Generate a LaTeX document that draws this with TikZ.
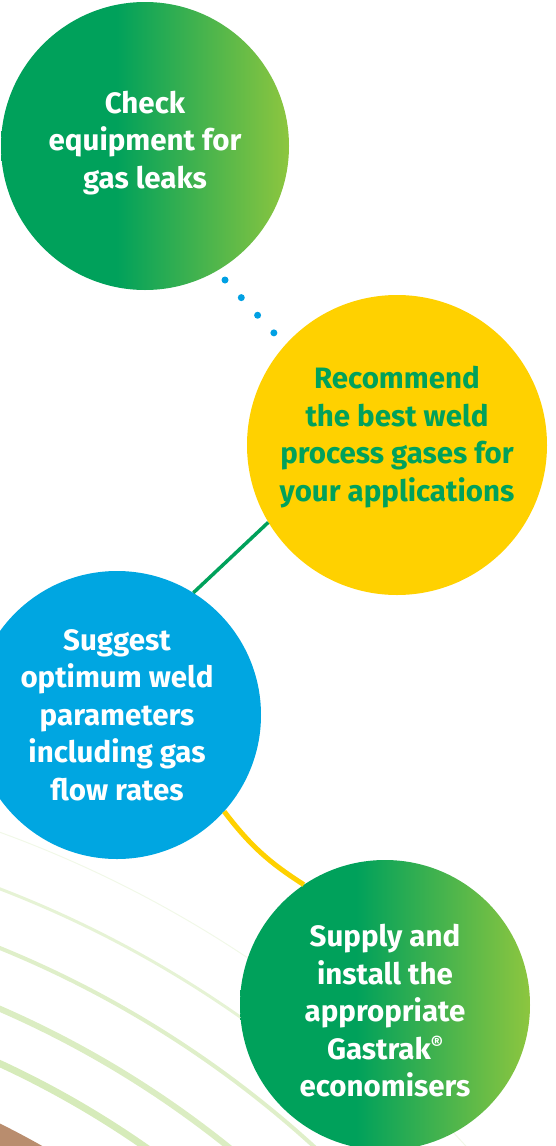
\documentclass[tikz,border=0pt]{standalone}
\usepackage{fontspec}
\setmainfont{Fira Sans}
\usetikzlibrary{positioning}

\definecolor{leafgreen}{HTML}{00A15B}
\definecolor{limegreen}{HTML}{8DC63F}
\definecolor{sunyellow}{HTML}{FFD100}
\definecolor{skyblue}{HTML}{00A6E1}
\definecolor{dotblue}{HTML}{00A0E3}
\definecolor{photobrown}{HTML}{B98D6E}

\pgfdeclarehorizontalshading{greenfade}{100bp}{color(0bp)=(leafgreen); color(45bp)=(leafgreen); color(75bp)=(limegreen); color(100bp)=(limegreen)}

\tikzset{
  bubble/.style={circle, inner sep=0pt, minimum size=288},
  bubbletext/.style={align=center, inner sep=0pt,
    font=\bfseries\fontsize{29.5}{37.5}\selectfont, text=white},
  greenbubble/.style={bubble, shading=greenfade},
  dotline/.style={dotblue, line width=7, line cap=round, dash pattern=on 0pt off 24pt},
}

\begin{document}
\begin{tikzpicture}[x=1pt, y=-1pt]
			\useasboundingbox (0,0) rectangle (556,1146);
			
			% rings in the corner
			\fill[photobrown] (-400,1930) circle (900);
			\foreach \r/\w/\c in {1168/1/12, 1115/3/22, 1060/4/28, 1004/6/32, 954/7/36}
				\draw[limegreen!\c, line width=\w] (-400,1930) circle (\r);
			
			\node[greenbubble, label={[bubbletext, yshift=3]center:{Check\\equipment for\\gas leaks}}] (check) at (145,146) {};
			\node[bubble, minimum size=300, fill=sunyellow, label={[bubbletext, text=leafgreen, yshift=8]center:{Recommend\\the best weld\\process gases for\\your applications}}] (recommend) at (397,445) {};
			\node[bubble, fill=skyblue, label={[bubbletext]center:{Suggest\\optimum weld\\parameters\\including gas\\flow rates}}] (suggest) at (117,715) {};
			\node[greenbubble, minimum size=290, label={[bubbletext, yshift=-6]center:{Supply and\\install the\\appropriate\\Gastrak\raisebox{9pt}{\fontsize{19}{19}\selectfont ®}\\economisers}}] (supply) at (385,1005) {};
			
			\coordinate (dotstart) at (225,280);
			\coordinate (dotend) at (274,333);
			\draw[dotline] (dotstart) -- (dotend);
			\draw[leafgreen, line width=3.5] (suggest.58) -- (recommend.211);
			\draw[sunyellow, line width=5] (suggest.-42) to[bend right=10] (supply.124);
		\end{tikzpicture}
\end{document}
